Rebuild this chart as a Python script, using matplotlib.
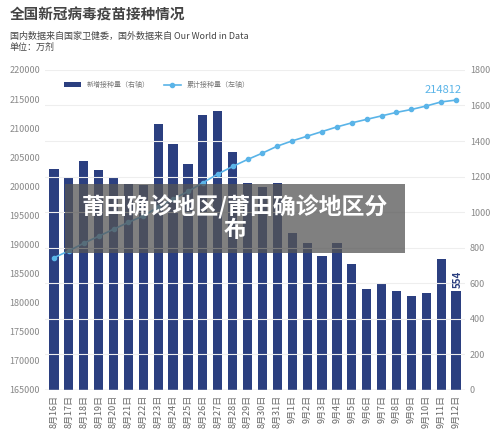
import matplotlib
matplotlib.use("Agg")
import matplotlib.pyplot as plt
import numpy as np
plt.rcParams['font.family'] = ['Noto Sans CJK SC', 'DejaVu Sans']

dates = [f"8月{d}日" for d in range(16, 32)] + [f"9月{d}日" for d in range(1, 13)]
daily = [1243, 1192, 1288, 1237, 1198, 1159, 1150, 1496, 1384, 1271, 1547, 1569, 1339, 1164,
         1142, 1164, 883, 827, 754, 827, 709, 568, 596, 557, 529, 546, 737, 554]
cumul = [187700, 188900, 190200, 191400, 192600, 193800, 194900, 196400, 197800, 199100,
         200600, 202100, 203400, 204600, 205700, 206900, 207800, 208600, 209400, 210200,
         210900, 211500, 212100, 212700, 213200, 213800, 214500, 214812]

fig = plt.figure(figsize=(5, 4.37), dpi=100)
ax = fig.add_axes([0.09, 0.108, 0.84, 0.732])
ax2 = ax.twinx()
ax.set_zorder(ax2.get_zorder() + 1); ax.patch.set_visible(False)
x = np.arange(len(dates))
ax2.bar(x, daily, width=0.62, color='#2b3f80', label='新增接种量（右轴）')
ax2.set_ylim(0, 1800); ax2.set_yticks(range(0, 1801, 200))
ax.plot(x, cumul, color='#5ab4e8', marker='o', ms=3, lw=1.2, label='累计接种量（左轴）')
ax.set_ylim(165000, 220000); ax.set_yticks(range(165000, 220001, 5000))
ax.set_xlim(-0.6, len(dates) - 0.4)
ax.set_xticks(x); ax.set_xticklabels(dates, rotation=90, fontsize=6.5, color='#666')
for a in (ax, ax2):
    a.tick_params(length=0, labelsize=6.5, colors='#888')
    for s in a.spines.values(): s.set_visible(False)
ax.tick_params(axis='x', colors='#666')
ax2.grid(axis='y', color='#eee', lw=0.8)
ax.axhline(165000, color='#ccc', lw=1)
ax.annotate(f"{cumul[-1]}", (x[-1], cumul[-1]), xytext=(-9, 5), textcoords='offset points',
            ha='center', color='#5ab4e8', fontsize=8)
ax2.text(x[-1] + 0.1, daily[-1] + 20, str(daily[-1]), rotation=90, ha='center', va='bottom',
         color='#2b3f80', fontsize=7, fontweight='bold')
h1, l1 = ax2.get_legend_handles_labels(); h2, l2 = ax.get_legend_handles_labels()
ax.legend(h1 + h2, l1 + l2, loc='upper left', bbox_to_anchor=(0.03, 0.985), ncol=2,
          frameon=False, fontsize=5, labelcolor='#777', handlelength=2.5)
fig.text(0.02, 0.955, '全国新冠病毒疫苗接种情况', fontsize=10.5, fontweight='bold', color='#444')
fig.text(0.02, 0.91, '国内数据来自国家卫健委，国外数据来自 Our World in Data', fontsize=6.5, color='#444')
fig.text(0.02, 0.885, '单位：万剂', fontsize=6.5, color='#444')
fig.patches.append(matplotlib.patches.Rectangle((0.13, 0.42), 0.68, 0.16, transform=fig.transFigure,
                   facecolor='#555', alpha=0.75, zorder=10))
fig.text(0.47, 0.5, '莆田确诊地区/莆田确诊地区分\n布', fontsize=16.5, fontweight='bold', color='white',
         ha='center', va='center', zorder=11, linespacing=1.0)
fig.savefig('out.png', dpi=100)
